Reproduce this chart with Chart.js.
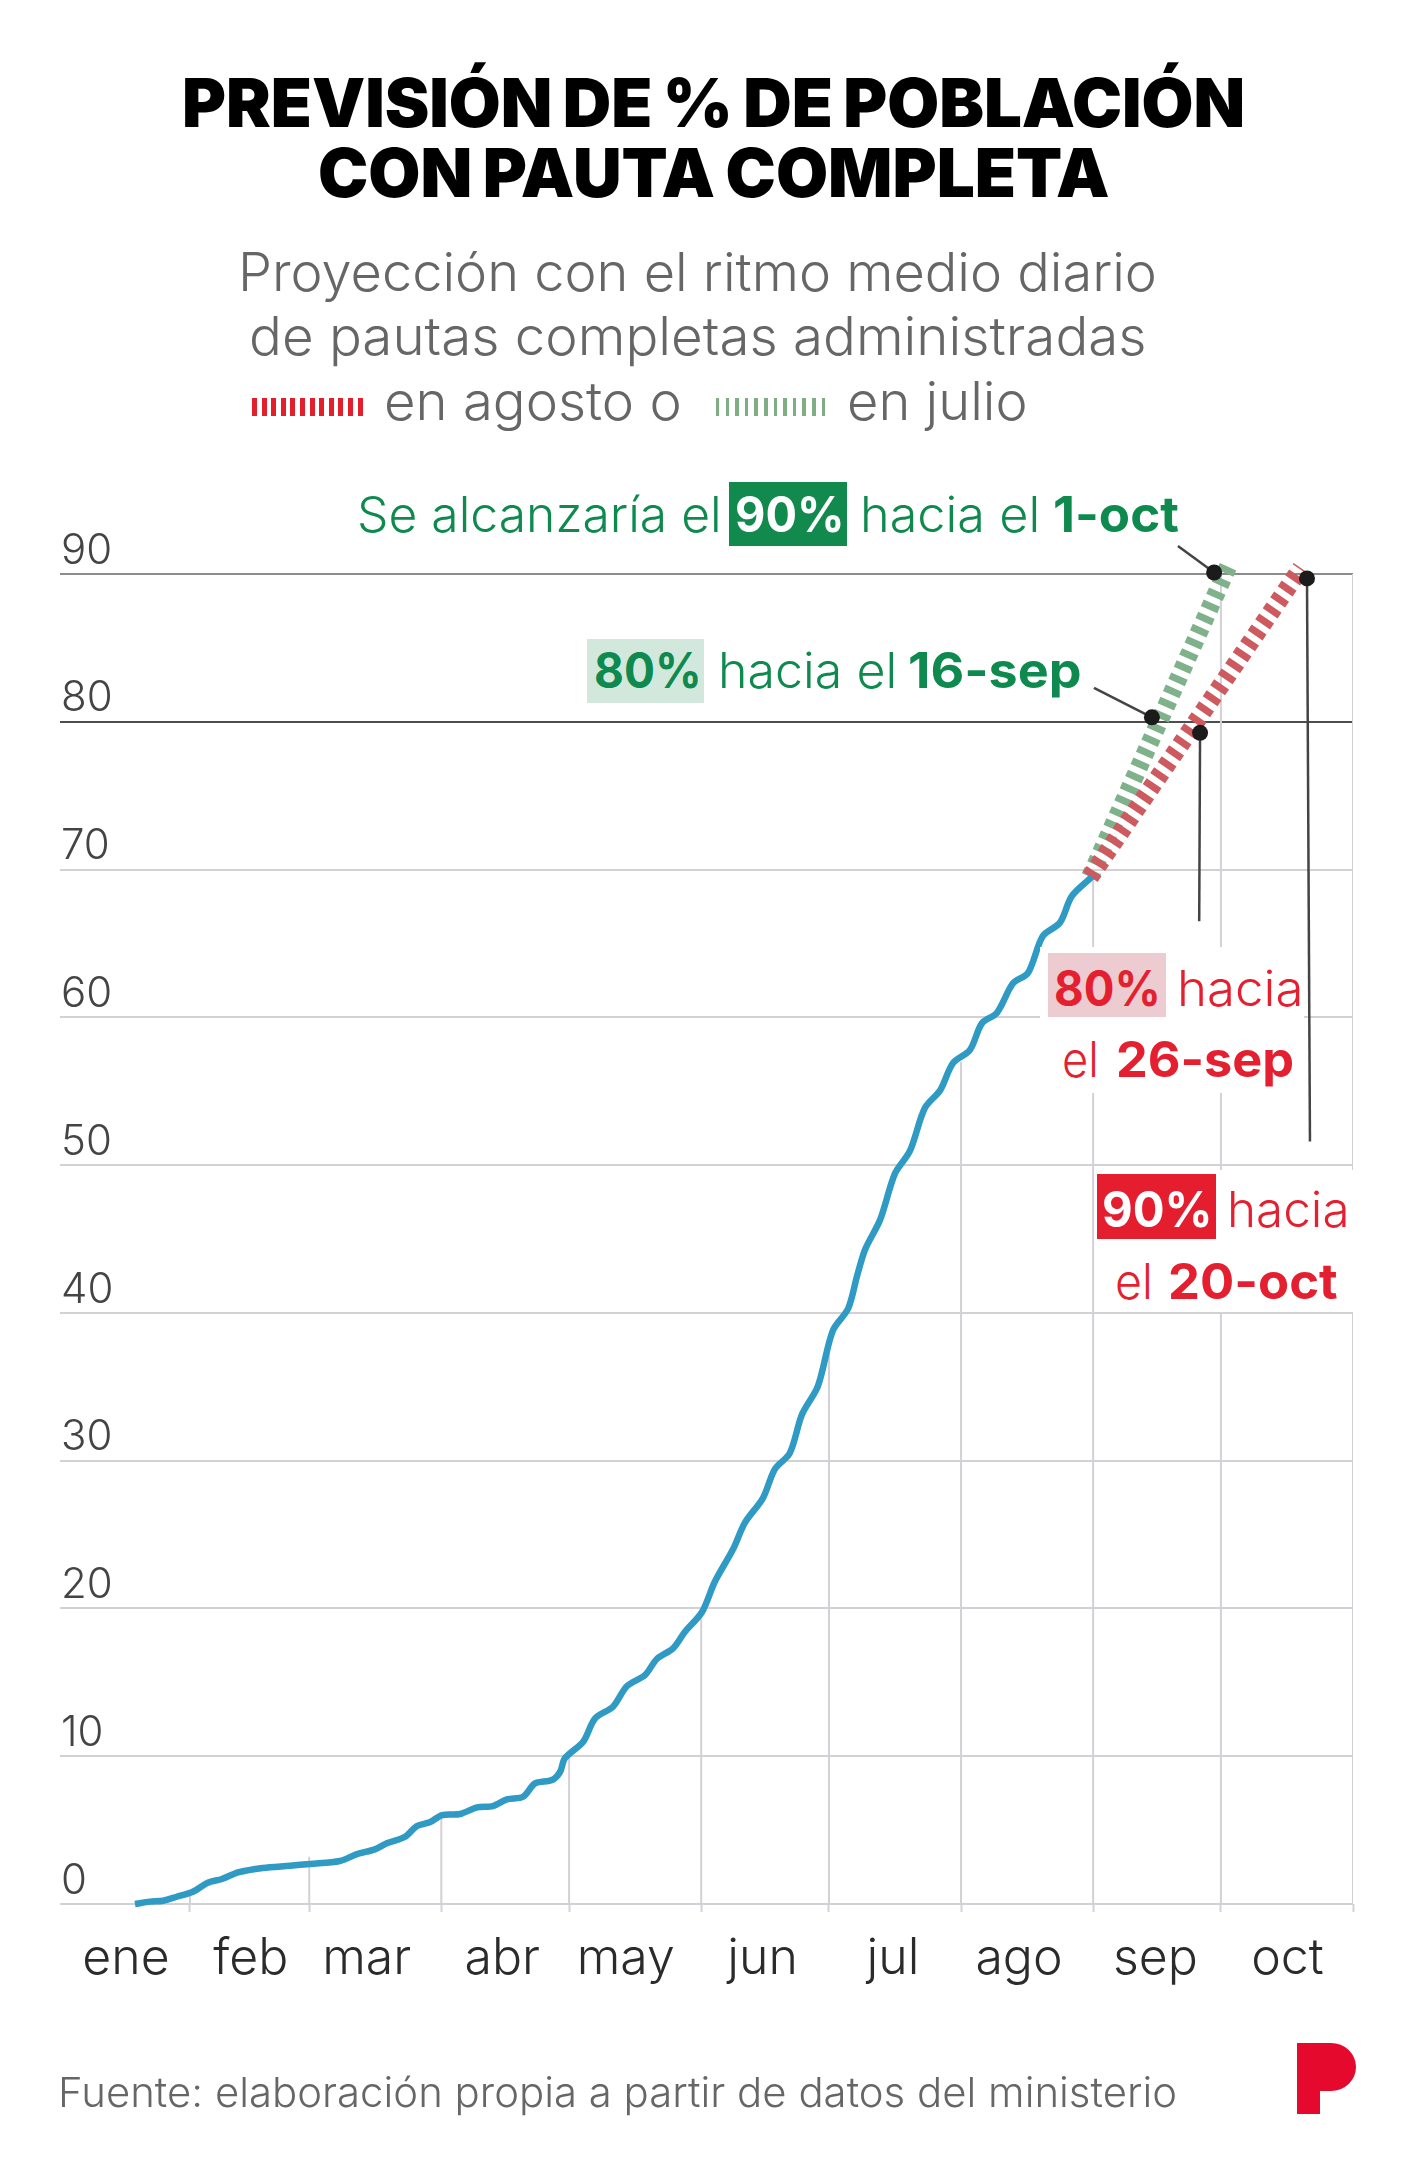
<!DOCTYPE html>
<html lang="es">
<head>
<meta charset="utf-8">
<title>Previsión de % de población con pauta completa</title>
<script src="https://cdn.jsdelivr.net/npm/chart.js@4"></script>
<style>
  html, body { margin: 0; padding: 0; background: #fff; }
  #page { position: relative; width: 1420px; height: 2179px; overflow: hidden; }
  #chart { position: absolute; left: 0; top: 0; }
  .txt { position: absolute; white-space: pre; line-height: 1; font-family: Inter, "Noto Sans", sans-serif; transform-origin: 0 0; }
  .box { position: absolute; }
</style>
</head>
<body>
<div id="page"><canvas id="chart" width="1420" height="2179"></canvas></div>
<script>
// day of the year on x, % of population on y
const monthNames = ['ene', 'feb', 'mar', 'abr', 'may', 'jun', 'jul', 'ago', 'sep', 'oct'];
const monthNameDays = [17, 46.3, 73.5, 105.3, 134.3, 166.4, 197, 226.6, 258.6, 289.6];
const monthStarts = [32, 60, 91, 121, 152, 182, 213, 244, 274, 305];
const monthTops = [0.9, 3.2, 6, 10, 19.7, 38, 57, 70, 90, 90];
const yTicks = [0, 10, 20, 30, 40, 50, 60, 70, 80, 90];

const realDays = [19.1, 22.6, 25.7, 28.9, 32.7, 36.2, 39.5, 43.3, 49.1, 55.5, 60.2, 67.2, 71.2, 75.4, 78.2, 82.5, 85.3, 88.3,
  91.2, 95.4, 99.4, 103.1, 106.4, 110.2, 113, 117, 118.9, 120, 124.3, 127.1, 131.3, 134.6, 138.8, 141.6, 145.4, 148.2,
  152.2, 155.2, 159.5, 162.3, 166.5, 169.3, 172.8, 175.7, 179.4, 182.9, 186.5, 188.6, 190.5, 194, 197.5, 201, 204.5,
  208.1, 211.1, 215.1, 217.9, 221.4, 225.2, 228.7, 232.2, 236.2, 239, 243.7];
const realValues = [0, 0.16, 0.22, 0.49, 0.83, 1.44, 1.69, 2.14, 2.44, 2.59, 2.71, 2.91, 3.38, 3.7, 4.11, 4.55, 5.28, 5.53,
  6.02, 6.09, 6.54, 6.63, 7.08, 7.26, 8.16, 8.39, 8.95, 9.86, 10.98, 12.56, 13.35, 14.75, 15.49, 16.58, 17.3, 18.42,
  19.76, 21.81, 24.02, 25.82, 27.47, 29.43, 30.51, 33.15, 35.05, 38.8, 40.3, 42.5, 44.3, 46.3, 49.44, 50.96, 53.86,
  55.07, 56.9, 57.8, 59.6, 60.3, 62.3, 63, 65.5, 66.4, 68.2, 69.5];

const augustDays = [243.3, 292.8];
const augustValues = [69.5, 90.4];
const julyDays = [243.3, 276];
const julyValues = [69.5, 90.7];

const dotDays = [272.4, 257.8, 269.1, 294.2];
const dotValues = [90.1, 80.3, 79.25, 89.7];

const leaderDays = [[263.9, 272.4], [244.2, 257.8], [269.1, 268.9], [294.2, 294.9]];
const leaderValues = [[91.9, 90.1], [82.3, 80.3], [79.25, 66.5], [89.7, 51.6]];

function points(xs, ys) {
  return xs.map((x, i) => ({ x: x, y: ys[i] }));
}

const datasets = [];

monthStarts.forEach((d, i) => {
  datasets.push({
    data: points([d, d], [0, monthTops[i]]),
    borderColor: '#d3d1d5', borderWidth: 2, pointRadius: 0, order: 9
  });
});
datasets.push({
  data: points(julyDays, julyValues),
  borderColor: '#7fb18b', borderWidth: 18, borderDash: [7, 6.3], borderCapStyle: 'butt',
  pointRadius: 0, clip: false, order: 6
});
datasets.push({
  data: points(augustDays, augustValues),
  borderColor: '#cc5a5e', borderWidth: 18, borderDash: [7, 6.3], borderCapStyle: 'butt',
  pointRadius: 0, clip: false, order: 5
});
datasets.push({
  data: points(realDays, realValues),
  borderColor: '#2f9ac3', borderWidth: 6.5, tension: 0.3, pointRadius: 0, clip: false, order: 4
});
leaderDays.forEach((xs, i) => {
  datasets.push({
    data: points(xs, leaderValues[i]),
    borderColor: '#444', borderWidth: 2.5, pointRadius: 0, clip: false, order: 3
  });
});
datasets.push({
  data: points(dotDays, dotValues),
  showLine: false, pointRadius: 8, pointBackgroundColor: '#1b1b1b', pointBorderWidth: 0, clip: false, order: 1
});

new Chart(document.getElementById('chart'), {
  type: 'line',
  data: { datasets: datasets },
  options: {
    responsive: false,
    animation: false,
    layout: { padding: { left: 60, right: 67, top: 574, bottom: 175 } },
    plugins: { legend: { display: false }, tooltip: { enabled: false } },
    scales: {
      x: {
        type: 'linear',
        min: 1.5,
        max: 305,
        afterFit(scale) { scale.height = 100; },
        afterBuildTicks(axis) {
          axis.ticks = monthStarts.concat(monthNameDays).map(v => ({ value: v }));
        },
        border: { display: false },
        grid: {
          drawOnChartArea: false,
          tickLength: 8,
          tickWidth: 2,
          tickColor: ctx => monthStarts.includes(ctx.tick.value) ? '#d3d1d5' : 'rgba(0,0,0,0)'
        },
        ticks: {
          autoSkip: false,
          maxRotation: 0,
          padding: 17,
          color: '#2b2b2b',
          font: { family: 'Inter', size: 50, weight: 300 },
          callback: v => {
            const i = monthNameDays.indexOf(v);
            return i < 0 ? '' : monthNames[i];
          }
        }
      },
      y: {
        min: 0,
        max: 90,
        afterFit(scale) { scale.width = 0; },
        afterBuildTicks(axis) {
          axis.ticks = yTicks.map(v => ({ value: v }));
        },
        border: { display: false },
        grid: {
          drawTicks: false,
          lineWidth: 2,
          color: ctx => ctx.tick.value === 80 ? '#4d4d4d' : ctx.tick.value === 90 ? '#8c8c8c' : '#d3d1d5'
        },
        ticks: {
          mirror: true,
          padding: 1,
          labelOffset: -23,
          color: '#444',
          font: { family: 'Inter', size: 42, weight: 300 }
        }
      }
    }
  }
});

const page = document.getElementById('page');

function box(x0, x1, y0, y1, background) {
  const el = document.createElement('div');
  el.className = 'box';
  el.style.cssText = `left:${x0}px;top:${y0}px;width:${x1 - x0}px;height:${y1 - y0}px;background:${background}`;
  page.appendChild(el);
}

// one run of text: squeezed to x0..x1, sitting on the baseline
function text(str, x0, x1, base, size, weight, color, wordGap) {
  const el = document.createElement('div');
  el.className = 'txt';
  el.textContent = str;
  el.style.cssText = `left:${x0}px;top:0;font-size:${size}px;font-weight:${weight};color:${color};word-spacing:${wordGap || 0}px`;
  const strut = document.createElement('span');
  strut.style.cssText = 'display:inline-block;width:0;height:0';
  el.appendChild(strut);
  page.appendChild(el);
  const baseY = strut.getBoundingClientRect().bottom - page.getBoundingClientRect().top;
  el.style.top = (base - baseY) + 'px';
  el.style.transform = `scaleX(${(x1 - x0) / el.offsetWidth})`;
}

const stripes = (c, w) => `repeating-linear-gradient(90deg,${c} 0 ${w}px,transparent ${w}px 9.6px)`;
const GREEN = '#0e8a4e', RED = '#e41f2f', GREY = '#666';

text('PREVISIÓN DE % DE POBLACIÓN', 182, 1245, 127, 68, 900, '#000', -3);
text('CON PAUTA COMPLETA', 318, 1109, 197, 68, 900, '#000', -3);

text('Proyección con el ritmo medio diario', 238, 1157, 290.5, 53, 300, GREY);
text('de pautas completas administradas', 249, 1147, 354.5, 53, 300, GREY);
box(252, 365, 398, 416, stripes('#e31f2e', 5));
text('en agosto o', 384, 682, 419.5, 53, 300, GREY);
box(716, 826, 398, 416, stripes('#7fae84', 3.5));
text('en julio', 847, 1028, 419.5, 53, 300, GREY);

// white patches that cut the grid behind the red notes
box(1040, 1304, 947, 1093, '#fff');
box(1095, 1362, 1170, 1312, '#fff');

text('Se alcanzaría el', 357, 722, 532, 49, 300, GREEN);
box(729, 847, 482, 546, '#128a4d');
text('90%', 735, 845, 532, 49, 700, '#fff');
text('hacia el', 860, 1040, 532, 49, 300, GREEN);
text('1-oct', 1053, 1179, 532, 49, 700, GREEN);

box(587, 704, 639, 703, '#d3e8dc');
text('80%', 594, 702, 688, 49, 700, GREEN);
text('hacia el', 718, 897, 688, 49, 300, GREEN);
text('16-sep', 908, 1081, 688, 49, 700, GREEN);

box(1048, 1166, 953, 1017, '#edccd1');
text('80%', 1054, 1161, 1006, 49, 700, RED);
text('hacia', 1177, 1304, 1006, 49, 300, RED);
text('el', 1062, 1099, 1077, 49, 300, RED);
text('26-sep', 1116, 1294, 1077, 49, 700, RED);

box(1097, 1216, 1174, 1239, '#e41e2f');
text('90%', 1102, 1213, 1227, 49, 700, '#fff');
text('hacia', 1227, 1350, 1227, 49, 300, RED);
text('el', 1115, 1153, 1299, 49, 300, RED);
text('20-oct', 1168, 1338, 1299, 49, 700, RED);

text('Fuente: elaboración propia a partir de datos del ministerio', 58, 1177, 2107, 41, 300, GREY);

page.insertAdjacentHTML('beforeend',
  '<svg style="position:absolute;left:1297px;top:2043px" width="60" height="72" viewBox="0 0 60 72">' +
  '<path d="M0 0H34A25 24 0 0 1 34 48H23V71H0Z" fill="#e4092d"/></svg>');
</script>
</body>
</html>
